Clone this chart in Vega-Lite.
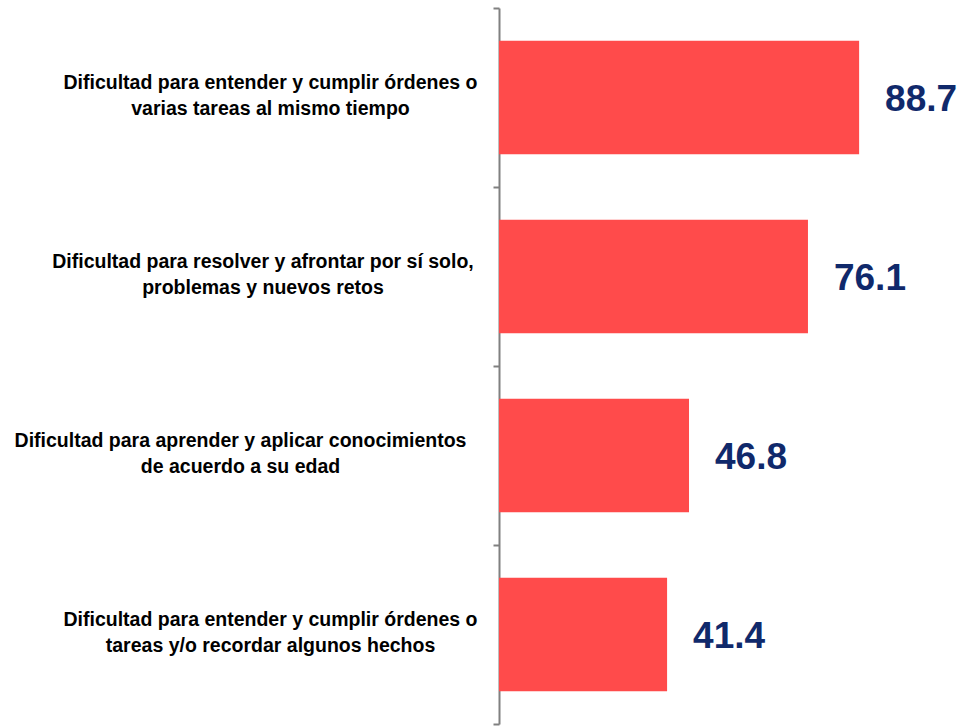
{
  "$schema": "https://vega.github.io/schema/vega-lite/v6.json",
  "width": 406,
  "height": 716,
  "autosize": {"type": "none"},
  "padding": {"left": 499, "top": 8, "right": 56, "bottom": 4},
  "background": "white",
  "config": {"view": {"stroke": null}},
  "data": {
    "values": [
      {"cat": "Dificultad para entender y cumplir órdenes o|varias tareas al mismo tiempo", "value": 88.7},
      {"cat": "Dificultad para  resolver y afrontar por sí solo,|problemas y nuevos retos", "value": 76.1},
      {"cat": "Dificultad para aprender y aplicar conocimientos|de acuerdo a su edad", "value": 46.8},
      {"cat": "Dificultad para entender y cumplir órdenes o|tareas y/o recordar algunos hechos", "value": 41.4}
    ]
  },
  "encoding": {
    "y": {
      "field": "cat",
      "type": "nominal",
      "sort": null,
      "scale": {"paddingInner": 0, "paddingOuter": 0},
      "axis": {
        "title": null,
        "labelExpr": "indexof(datum.label, 'aprender') >= 0 ? [split(datum.label, '|')[0] + '\u2800\u2800\u2800\u2800', split(datum.label, '|')[1] + '\u2800\u2800\u2800\u2800'] : indexof(datum.label, 'resolver') >= 0 ? [split(datum.label, '|')[0] + '\u2800', split(datum.label, '|')[1] + '\u2800'] : split(datum.label, '|')",
        "labelFont": "Liberation Sans",
        "labelFontWeight": "bold",
        "labelFontSize": 19.5,
        "labelLineHeight": 26,
        "labelColor": "#000000",
        "labelAlign": "center",
        "labelBaseline": "middle",
        "labelOffset": -15,
        "labelPadding": 223,
        "labelLimit": 0,
        "domainColor": "#808080",
        "domainWidth": 2,
        "tickColor": "#808080",
        "tickWidth": 2,
        "tickSize": 6,
        "tickBand": "extent"
      }
    },
    "x": {
      "field": "value",
      "type": "quantitative",
      "scale": {"domain": [0, 100]},
      "axis": null
    }
  },
  "layer": [
    {"mark": {"type": "bar", "color": "#ff4b4b", "height": {"band": 0.633}}},
    {
      "mark": {
        "type": "text",
        "align": "left",
        "baseline": "middle",
        "dx": 26,
        "dy": 2,
        "font": "Liberation Sans",
        "fontWeight": "bold",
        "fontSize": 37,
        "color": "#10296b"
      },
      "encoding": {"text": {"field": "value", "type": "quantitative", "format": ".1f"}}
    }
  ]
}
